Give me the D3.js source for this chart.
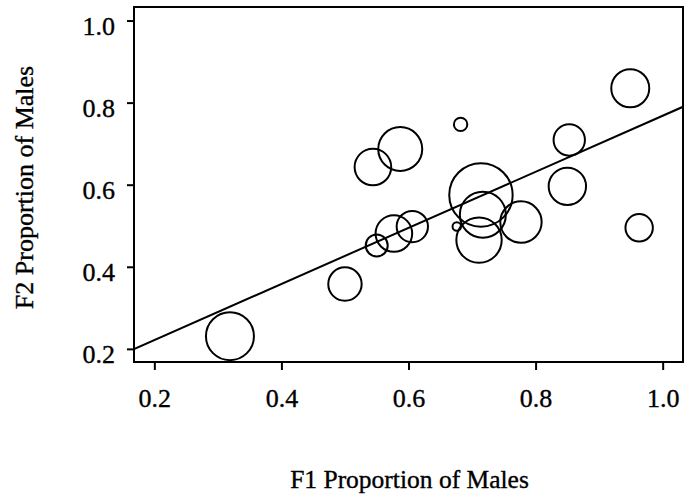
<!DOCTYPE html>
<html>
<head>
<meta charset="utf-8">
<script src="https://cdn.jsdelivr.net/npm/d3@7"></script>
<style>
  html, body { margin: 0; padding: 0; background: #fff; }
  svg { display: block; }
  text { font-family: "Liberation Serif", "Times New Roman", serif; fill: #000; stroke: #000; stroke-width: 0.35px; }
</style>
</head>
<body>
<svg id="chart" width="686" height="498"></svg>
<script>
// F1 proportion of males (x), F2 proportion of males (y), sample size (bubble area)
const f1 = [0.682, 0.544, 0.587, 0.714, 0.717, 0.711, 0.676, 0.777, 0.606, 0.577, 0.550, 0.949, 0.853, 0.850, 0.963, 0.319, 0.500];
const f2 = [0.747, 0.643, 0.687, 0.575, 0.527, 0.465, 0.498, 0.509, 0.498, 0.481, 0.452, 0.835, 0.709, 0.596, 0.495, 0.231, 0.358];
const sizes = [45, 335, 484, 1005, 529, 515, 18, 428, 246, 335, 121, 361, 246, 350, 188, 576, 279];
const xTicks = [0.2, 0.4, 0.6, 0.8, 1.0];
const yTicks = [0.2, 0.4, 0.6, 0.8, 1.0];
const fitIntercept = 0.085;
const fitSlope = 0.683;
const xTitle = "F1 Proportion of Males";
const yTitle = "F2 Proportion of Males";

const svg = d3.select("#chart");
const L = 134, R = 683, T = 7, B = 362;
const xDomain = [0.168, 1.032];
const x = d3.scaleLinear().domain(xDomain).range([L, R]);
const y = d3.scaleLinear().domain([0.168, 1.033]).range([B, T]);
const r = d3.scaleSqrt().domain([0, 1005]).range([0, 31.7]);

const data = f1.map((v, i) => ({ x: v, y: f2[i], n: sizes[i] }));

// axes
const xAxis = svg.append("g").attr("transform", `translate(0,${B})`)
  .call(d3.axisBottom(x).tickValues(xTicks).tickFormat(d3.format(".1f")).tickSize(8).tickPadding(10));
const yAxis = svg.append("g").attr("transform", `translate(${L},0)`)
  .call(d3.axisLeft(y).tickValues(yTicks).tickFormat(d3.format(".1f")).tickSize(7).tickPadding(12));
[xAxis, yAxis].forEach(g => {
  g.select(".domain").remove();
  g.selectAll(".tick line").attr("stroke", "#000").attr("stroke-width", 2);
  g.selectAll(".tick text").style("font-size", "26px").attr("fill", "#000");
});
xAxis.selectAll(".tick text").attr("y", 45).attr("dy", 0);
yAxis.selectAll(".tick text").attr("dy", "0.52em");

// frame
svg.append("rect").attr("x", L).attr("y", T).attr("width", R - L).attr("height", B - T)
  .attr("fill", "none").attr("stroke", "#000").attr("stroke-width", 2);

// clip
svg.append("clipPath").attr("id", "clip").append("rect")
  .attr("x", L).attr("y", T).attr("width", R - L).attr("height", B - T);

const plot = svg.append("g").attr("clip-path", "url(#clip)");

// regression line
const line = d3.line().x(d => x(d)).y(d => y(fitIntercept + fitSlope * d));
plot.append("path").datum(xDomain).attr("d", line)
  .attr("fill", "none").attr("stroke", "#000").attr("stroke-width", 2);

// bubbles
plot.selectAll("circle").data(data).join("circle")
  .attr("cx", d => x(d.x)).attr("cy", d => y(d.y)).attr("r", d => r(d.n))
  .attr("fill", "none").attr("stroke", "#000").attr("stroke-width", 2);

// titles
svg.append("text").attr("x", (L + R) / 2 + 1).attr("y", 488).attr("text-anchor", "middle")
  .style("font-size", "25.5px").text(xTitle);
svg.append("text").attr("transform", `translate(33,${(T + B) / 2 + 3}) rotate(-90)`)
  .attr("text-anchor", "middle").style("font-size", "26px").text(yTitle);
</script>
</body>
</html>
